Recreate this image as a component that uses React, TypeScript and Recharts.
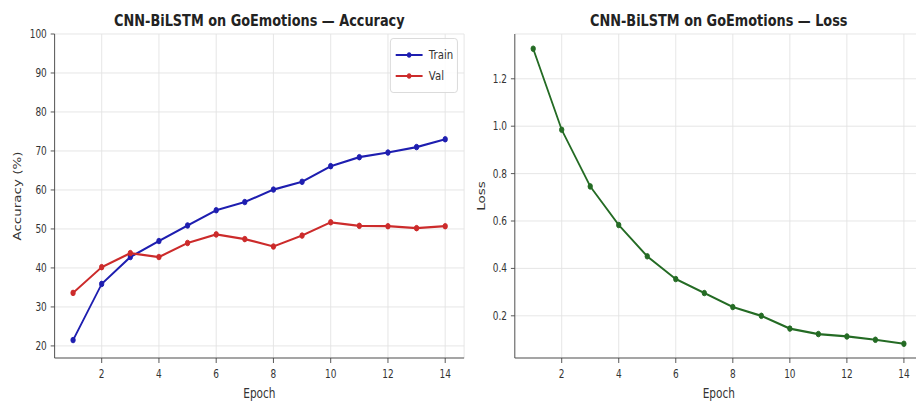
import * as React from "react";
import {
  LineChart,
  Line,
  XAxis,
  YAxis,
  CartesianGrid,
  Legend,
} from "recharts";

const epochs = [1, 2, 3, 4, 5, 6, 7, 8, 9, 10, 11, 12, 13, 14];
const trainAcc = [21.5, 35.9, 42.8, 46.9, 50.9, 54.8, 56.9, 60.1, 62.1, 66.1, 68.4, 69.6, 71.0, 73.0];
const valAcc = [33.6, 40.2, 43.8, 42.8, 46.4, 48.6, 47.4, 45.5, 48.3, 51.7, 50.8, 50.7, 50.2, 50.7];
const trainLoss = [1.327, 0.985, 0.746, 0.583, 0.451, 0.355, 0.296, 0.237, 0.2, 0.146, 0.123, 0.113, 0.099, 0.082];

const epochTicks = [2, 4, 6, 8, 10, 12, 14];
const accTicks = [20, 30, 40, 50, 60, 70, 80, 90, 100];
const lossTicks = [0.2, 0.4, 0.6, 0.8, 1.0, 1.2];

const accData = epochs.map((e, i) => ({ epoch: e, train: trainAcc[i], val: valAcc[i] }));
const lossData = epochs.map((e, i) => ({ epoch: e, loss: trainLoss[i] }));

// figure is laid out at its natural width and squeezed horizontally to fit the page
const SQUEEZE = 0.78;
const EPOCH_DOMAIN: [number, number] = [0.355, 14.66];
const ACC_DOMAIN: [number, number] = [16.9, 100];
const LOSS_DOMAIN: [number, number] = [0.022, 1.389];

const FONT = "'DejaVu Sans', sans-serif";
const SPINE = "#444";
const GRID = "#e3e3e3";
const TEXT = "#333";
const BLUE = "#1e1eb0";
const RED = "#cc2b2b";
const GREEN = "#246b24";

const tickStyle = { fontSize: 11.5, fill: TEXT, fontFamily: FONT };
const labelStyle = { fontSize: 13.5, fill: TEXT, fontFamily: FONT };

function Title({ left, width, children }: { left: number; width: number; children: React.ReactNode }) {
  return (
    <div
      style={{
        position: "absolute",
        left,
        top: 11,
        width,
        textAlign: "center",
        fontFamily: FONT,
        fontWeight: "bold",
        fontSize: 16.5,
        color: "#222",
        lineHeight: "19px",
        whiteSpace: "nowrap",
      }}
    >
      {children}
    </div>
  );
}

function AccLegend() {
  const rows = [
    { name: "Train", color: BLUE },
    { name: "Val", color: RED },
  ];
  return (
    <div
      style={{
        border: "1px solid #d6d6d6",
        borderRadius: 4,
        background: "rgba(255,255,255,0.85)",
        padding: "5px 5px 6px 6px",
        fontFamily: FONT,
        fontSize: 13,
        color: TEXT,
      }}
    >
      {rows.map((r) => (
        <div key={r.name} style={{ display: "flex", alignItems: "center", height: 21 }}>
          <svg width={35} height={8} style={{ marginRight: 8 }}>
            <line x1={0} y1={4} x2={35} y2={4} stroke={r.color} strokeWidth={2.2} />
            <circle cx={17.5} cy={4} r={2.8} fill={r.color} />
          </svg>
          <span>{r.name}</span>
        </div>
      ))}
    </div>
  );
}

function AccuracyChart() {
  return (
    <LineChart width={603} height={402} data={accData} margin={{ top: 34, right: 8, left: 0, bottom: 0 }}>
      <CartesianGrid stroke={GRID} />
      <XAxis
        dataKey="epoch"
        type="number"
        domain={EPOCH_DOMAIN}
        ticks={epochTicks}
        allowDataOverflow
        height={44}
        stroke={SPINE}
        tickSize={5}
        tickMargin={7}
        tick={tickStyle}
        label={{ value: "Epoch", position: "insideBottom", offset: 4, style: labelStyle }}
      />
      <XAxis xAxisId="top" orientation="top" dataKey="epoch" type="number" domain={EPOCH_DOMAIN} height={0} tick={false} tickLine={false} stroke={SPINE} />
      <YAxis
        type="number"
        domain={ACC_DOMAIN}
        ticks={accTicks}
        allowDataOverflow
        width={70}
        stroke={SPINE}
        tickSize={5}
        tickMargin={5}
        tick={tickStyle}
        label={{ value: "Accuracy (%)", angle: -90, position: "insideLeft", offset: 22, style: { ...labelStyle, textAnchor: "middle" } }}
      />
      <YAxis yAxisId="right" orientation="right" domain={ACC_DOMAIN} width={0} tick={false} tickLine={false} stroke={SPINE} />
      {/* centred + middle keeps the legend from reserving space in the plot */}
      <Legend
        layout="horizontal"
        verticalAlign="middle"
        align="center"
        content={<AccLegend />}
        wrapperStyle={{ top: 38, right: 16, left: "auto", width: "auto" }}
      />
      <Line dataKey="train" name="Train" stroke={BLUE} strokeWidth={2.2} dot={{ r: 2.8, fill: BLUE, stroke: BLUE, strokeWidth: 1 }} isAnimationActive={false} />
      <Line dataKey="val" name="Val" stroke={RED} strokeWidth={2.2} dot={{ r: 2.8, fill: RED, stroke: RED, strokeWidth: 1 }} isAnimationActive={false} />
    </LineChart>
  );
}

function LossChart() {
  return (
    <LineChart width={601} height={402} data={lossData} margin={{ top: 34, right: 8, left: 0, bottom: 0 }}>
      <CartesianGrid stroke={GRID} />
      <XAxis
        dataKey="epoch"
        type="number"
        domain={EPOCH_DOMAIN}
        ticks={epochTicks}
        allowDataOverflow
        height={44}
        stroke={SPINE}
        tickSize={5}
        tickMargin={7}
        tick={tickStyle}
        label={{ value: "Epoch", position: "insideBottom", offset: 4, style: labelStyle }}
      />
      <XAxis xAxisId="top" orientation="top" dataKey="epoch" type="number" domain={EPOCH_DOMAIN} height={0} tick={false} tickLine={false} stroke={SPINE} />
      <YAxis
        type="number"
        domain={LOSS_DOMAIN}
        ticks={lossTicks}
        allowDataOverflow
        width={70}
        stroke={SPINE}
        tickSize={5}
        tickMargin={5}
        tick={tickStyle}
        tickFormatter={(v: number) => v.toFixed(1)}
        label={{ value: "Loss", angle: -90, position: "insideLeft", offset: 27, style: { ...labelStyle, textAnchor: "middle" } }}
      />
      <YAxis yAxisId="right" orientation="right" domain={LOSS_DOMAIN} width={0} tick={false} tickLine={false} stroke={SPINE} />
      <Line dataKey="loss" name="Loss" stroke={GREEN} strokeWidth={2.2} dot={{ r: 2.8, fill: GREEN, stroke: GREEN, strokeWidth: 1 }} isAnimationActive={false} />
    </LineChart>
  );
}

export default function App() {
  return (
    <div
      style={{
        position: "absolute",
        left: 0,
        top: 0,
        width: 916,
        height: 402,
        overflow: "hidden",
        background: "#fff",
      }}
    >
      <div
        style={{
          position: "absolute",
          left: 0,
          top: 0,
          width: 1191,
          height: 402,
          transform: `scaleX(${SQUEEZE})`,
          transformOrigin: "0 0",
        }}
      >
        <div style={{ position: "absolute", left: 0, top: 0 }}>
          <AccuracyChart />
        </div>
        <div style={{ position: "absolute", left: 590, top: 0 }}>
          <LossChart />
        </div>
        <Title left={70} width={525}>CNN-BiLSTM on GoEmotions — Accuracy</Title>
        <Title left={660} width={523}>CNN-BiLSTM on GoEmotions — Loss</Title>
      </div>
    </div>
  );
}
